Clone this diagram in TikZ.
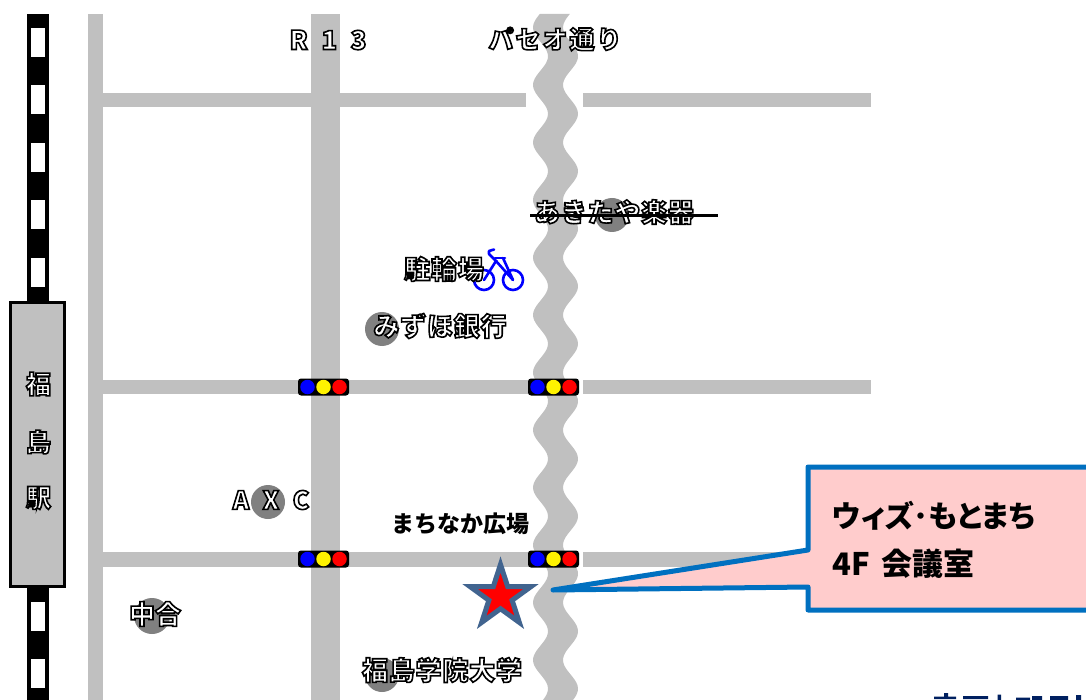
\documentclass[tikz,border=0pt]{standalone}
\usepackage{fontspec}
\usetikzlibrary{shapes.geometric}
\setmainfont{Noto Sans CJK JP}
\newfontfamily\cjk{Noto Sans CJK JP}[RawFeature=+palt]
\newcommand{\outl}[2]{\special{pdf:code q 2 Tr 1.6 w 0 0 0 RG 1 1 1 rg}\fontsize{#1}{#1}\selectfont\bfseries #2\special{pdf:code Q}}
\definecolor{road}{HTML}{C0C0C0}
\definecolor{spot}{HTML}{808080}
\definecolor{callblue}{HTML}{0070C0}
\definecolor{callpink}{HTML}{FFCCCC}
\definecolor{starblue}{HTML}{41648F}
\definecolor{navytext}{HTML}{002060}
\tikzset{
  roadfill/.style={fill=road,draw=none},
  spotdot/.style={circle,fill=spot,draw=none,minimum size=34pt,inner sep=0pt},
  maplabel/.style={inner sep=0pt,text=white},
  lampb/.style={circle,fill=blue,minimum size=14.5pt,inner sep=0pt},
  lampy/.style={circle,fill=yellow,minimum size=14.5pt,inner sep=0pt},
  lampr/.style={circle,fill=red,minimum size=14.5pt,inner sep=0pt},
  signalbox/.style={rounded corners=3pt,fill=black,draw=none},
  bikeline/.style={draw=blue,line width=2.6pt,line cap=round,line join=round},
}
\newcommand{\signal}[3]{%
  \fill[signalbox] (#1-25.5,#2-8.5) rectangle (#1+25.5,#2+8.5);
  \node[lampb] (#3b) at (#1-16,#2) {};
  \node[lampy] (#3y) at (#1,#2) {};
  \node[lampr] (#3r) at (#1+16,#2) {};
}
\begin{document}
\begin{tikzpicture}[x=1pt,y=-1pt]
\useasboundingbox (0,0) rectangle (1086,700);
\fill[white] (0,0) rectangle (1086,700);
% railway
\fill[black] (27,14) rectangle (48.5,700);
\foreach \k in {0,...,11} \fill[white] (30.5,28+57.4*\k) rectangle (45,57+57.4*\k);
% straight roads
\fill[roadfill] (88,14) rectangle (102.5,700);
\fill[roadfill] (311,14) rectangle (339.5,700);
\fill[roadfill] (88,93) rectangle (526,107);
\fill[roadfill] (583,93) rectangle (871,107);
\fill[roadfill] (88,380) rectangle (545,394);
\fill[roadfill] (583,380) rectangle (871,394);
\fill[roadfill] (88,552) rectangle (545,566.5);
\fill[roadfill] (583,552) rectangle (871,566.5);
% winding road
\fill[roadfill] plot[domain=14:700,samples=140,smooth,variable=\y] ({540.5-7.5*cos(6.2608*(\y-85))},\y)
  -- plot[domain=700:14,samples=140,smooth,variable=\y] ({570.5-7.5*cos(6.2608*(\y-85))},\y) -- cycle;
% station
\node[draw=black,fill=road,line width=3pt,minimum width=54pt,minimum height=283.5pt,inner sep=0pt] (station) at (37.5,444.5) {};
% spots
\node[spotdot] (spotA) at (612,215) {};
\node[spotdot] (spotB) at (382,329) {};
\node[spotdot] (spotC) at (268,502) {};
\node[spotdot,minimum size=36pt] (spotD) at (152,616) {};
\node[spotdot] (spotE) at (382,675) {};
% signals
\signal{323.5}{387}{sa}
\signal{553.5}{387}{sb}
\signal{323.5}{559}{sc}
\signal{553.5}{559}{sd}
% bike
\draw[bikeline] (484,280) circle (10);
\draw[bikeline] (513,280) circle (10);
\draw[bikeline] (484,280) -- (496,261) -- (513,280);
\draw[bikeline] (494,249.5) -- (489,251) -- (489,254) -- (497,262);
\draw[bikeline] (495,258) -- (505,258);
\draw[bikeline] (503,258) -- (513,280);
% labels
\node[maplabel] (l1) at (38.5,384) {\outl{25}{福}};
\node[maplabel] (l2) at (38.5,442) {\outl{25}{島}};
\node[maplabel] (l3) at (38.5,498) {\outl{25}{駅}};
\node[maplabel] (r13) at (328,40) {\outl{26}{R\hspace{13.5pt}1\hspace{13.5pt}3}};
\node[maplabel] (paseo) at (555,39) {\addfontfeature{LetterSpace=8}\outl{25}{パセオ通り}};
\node[maplabel] (akita) at (614,212) {\addfontfeature{LetterSpace=3}\outl{26}{あきたや楽器}};
\node[maplabel] (bike) at (444,269) {\addfontfeature{LetterSpace=3}\outl{26}{駐輪場}};
\node[maplabel] (mizuho) at (440,326) {\addfontfeature{LetterSpace=3}\outl{26}{みずほ銀行}};
\node[maplabel] (axc) at (271,500) {\outl{25}{A\hspace{13.5pt}X\hspace{13.5pt}C}};
\node[maplabel] (naka) at (155,614) {\outl{26}{中合}};
\node[maplabel] (gakuin) at (442,670) {\addfontfeature{LetterSpace=3}\outl{26}{福島学院大学}};
\node[inner sep=0pt,text=black] (machi) at (460.5,524) {\fontsize{23}{23}\selectfont\bfseries まちなか広場};
% struck-out line
\coordinate (strikeL) at (530,216);
\coordinate (strikeR) at (718,216);
\draw[black,line width=3pt] (strikeL) -- (strikeR);
% star
\node[star,star points=5,star point ratio=2.618,draw=starblue,fill=red,line width=5pt,minimum size=64pt,inner sep=0pt] (target) at (500.5,596.5) {};
% callout
\coordinate (tip) at (553,590);
\draw[callblue,fill=callpink,line width=5pt,line join=round] (1100,467) -- (808,467) -- (808,550) -- (tip) -- (808,587) -- (808,610) -- (1100,610);
\node[inner sep=0pt,anchor=west] (cal1) at (832,516) {\fontsize{30}{30}\selectfont\cjk\bfseries ウィズ･もとまち};
\node[inner sep=0pt,anchor=west] (cal2) at (832,564) {\fontsize{31}{31}\selectfont\bfseries 4F\hspace{12pt}会議室};
% tops of a cut-off line of text at the lower edge
\fill[navytext] (944,693) rectangle (948,697) (934,696.5) rectangle (956,699)
  (963,696) rectangle (988,699) (997.5,694.5) rectangle (1001,700)
  (1016,697.5) rectangle (1030,700) (1032,696) rectangle (1042,700)
  (1050,696) rectangle (1068,700) (1076,695) rectangle (1081,700);
\end{tikzpicture}
\end{document}
